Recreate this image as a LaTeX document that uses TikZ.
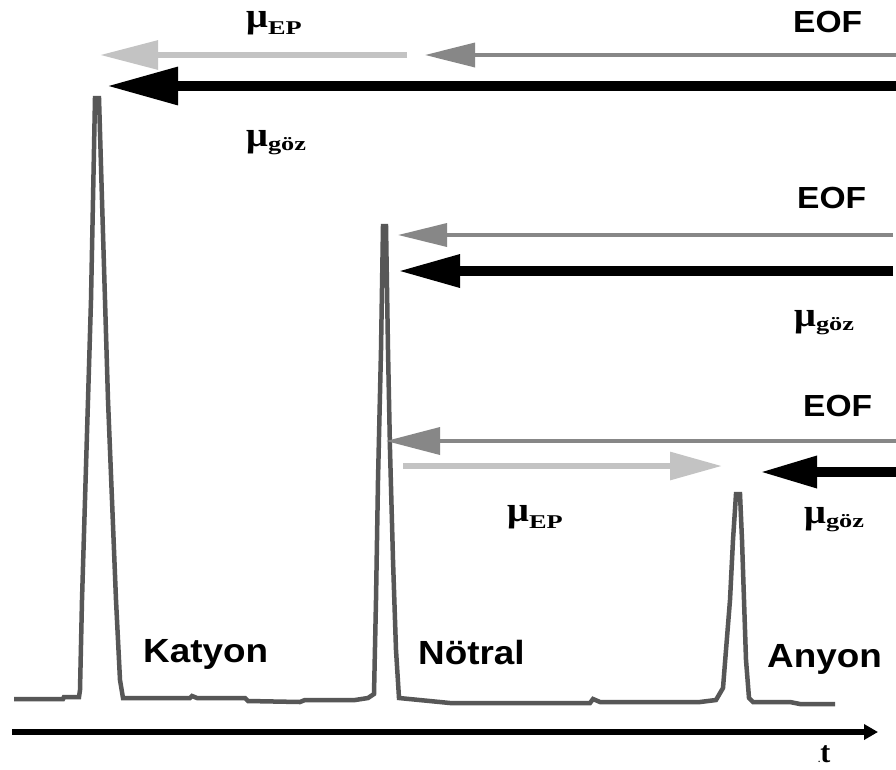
\documentclass[tikz,border=0pt]{standalone}
\usepackage{fontspec}
\usepackage{graphicx}
\usetikzlibrary{arrows.meta}
\setmainfont{Liberation Sans}
\newfontfamily\muserif{Liberation Serif}

\definecolor{peakgray}{HTML}{575757}
\definecolor{eofgray}{HTML}{878787}
\definecolor{epgray}{HTML}{C3C3C3}

% mobility label: bold serif mu with a lowered subscript
\newcommand{\mobl}[2]{%
  \scalebox{1.1}[1]{\muserif\bfseries\fontsize{35}{35}\selectfont μ}%
  \raisebox{-#2pt}{\scalebox{1.35}[1]{\muserif\bfseries\fontsize{19.5}{19.5}\selectfont #1}}}
\newcommand{\sanslbl}[2]{\scalebox{1.1}[1]{\bfseries\fontsize{#1}{#1}\selectfont #2}}

\begin{document}
\begin{tikzpicture}[x=1pt,y=-1pt,
  txt/.style={inner sep=0pt, anchor=base west},
  peakline/.style={draw=peakgray, line width=4.5pt, line join=miter},
  arrblack/.style={draw=black, line width=9.5pt},
  arreof/.style={draw=eofgray, line width=3.5pt},
  arrep/.style={draw=epgray, line width=6pt}]

\useasboundingbox[fill=white] (0,0) rectangle (896,769);

% chromatogram trace
\draw[peakline] (14,699) -- (63,699) -- (64,697) -- (79,697)
  -- (80,690) -- (82,600) -- (85,500) -- (88,400) -- (91,300) -- (93,200) -- (95,98)
  -- (99,98) -- (102,200) -- (105,300) -- (108,400) -- (112,500) -- (116,600) -- (120,680) -- (123,698)
  -- (190,698) -- (192,696) -- (197,698) -- (245,698) -- (248,701) -- (300,702) -- (305,700)
  -- (355,700) -- (368,698) -- (374,694)
  -- (376,600) -- (378,480) -- (381,350) -- (383,226) -- (386,226)
  -- (388,350) -- (390,450) -- (393,560) -- (396,650) -- (399,698)
  -- (450,703) -- (590,703) -- (593,699) -- (600,702) -- (700,702) -- (716,700) -- (723,688)
  -- (726,650) -- (730,600) -- (733,540) -- (736,494) -- (740,494)
  -- (742,540) -- (744,600) -- (746,660) -- (749,698) -- (753,702) -- (790,702) -- (800,704) -- (835,704);

% time axis
\coordinate (ta) at (12,732);
\coordinate (tb) at (878,732);
\draw[line width=6pt, -{Triangle[length=14pt,width=15pt]}] (ta) -- (tb);
\node[txt] (tlabel) at (818,762) {\muserif\bfseries{\fontsize{9}{9}\selectfont.}\fontsize{30}{30}\selectfont t};

% top group (cation)
\coordinate (e1s) at (896,55);  \coordinate (e1t) at (425,55);
\coordinate (p1s) at (407,55);  \coordinate (p1t) at (100,55);
\coordinate (g1s) at (896,86);  \coordinate (g1t) at (107,86);
\draw[arreof, -{Triangle[length=50pt,width=24pt]}] (e1s) -- (e1t);
\draw[arrep, -{Triangle[length=58pt,width=28pt]}] (p1s) -- (p1t);
\draw[arrblack, -{Triangle[length=71pt,width=36pt]}] (g1s) -- (g1t);
\node[txt] (ep1) at (246,27) {\mobl{EP}{7}};
\node[txt] (eof1) at (793,32) {\sanslbl{30.5}{EOF}};
\node[txt] (goz1) at (246,146) {\mobl{göz}{4}};

% middle group (neutral)
\coordinate (e2s) at (893,235); \coordinate (e2t) at (398,235);
\coordinate (g2s) at (893,271); \coordinate (g2t) at (398,271);
\draw[arreof, -{Triangle[length=49pt,width=23pt]}] (e2s) -- (e2t);
\draw[arrblack, -{Triangle[length=62pt,width=31pt]}] (g2s) -- (g2t);
\node[txt] (eof2) at (797,208) {\sanslbl{30.5}{EOF}};
\node[txt] (goz2) at (794,326) {\mobl{göz}{4}};

% bottom group (anion)
\coordinate (e3s) at (896,441); \coordinate (e3t) at (386,441);
\coordinate (p3s) at (403,466); \coordinate (p3t) at (722,466);
\coordinate (g3s) at (896,472); \coordinate (g3t) at (760,472);
\draw[arreof, -{Triangle[length=54pt,width=27pt]}] (e3s) -- (e3t);
\draw[arrep, -{Triangle[length=52pt,width=27pt]}] (p3s) -- (p3t);
\draw[arrblack, -{Triangle[length=57pt,width=30pt]}] (g3s) -- (g3t);
\node[txt] (eof3) at (803,416) {\sanslbl{30.5}{EOF}};
\node[txt] (ep3) at (507,521) {\mobl{EP}{7}};
\node[txt] (goz3) at (804,523) {\mobl{göz}{4}};

% peak names
\node[txt] (kat) at (143,662) {\sanslbl{33.5}{Katyon}};
\node[txt] (not) at (418,664) {\sanslbl{33.5}{Nötral}};
\node[txt] (any) at (767,667) {\sanslbl{33.5}{Anyon}};
\end{tikzpicture}
\end{document}
